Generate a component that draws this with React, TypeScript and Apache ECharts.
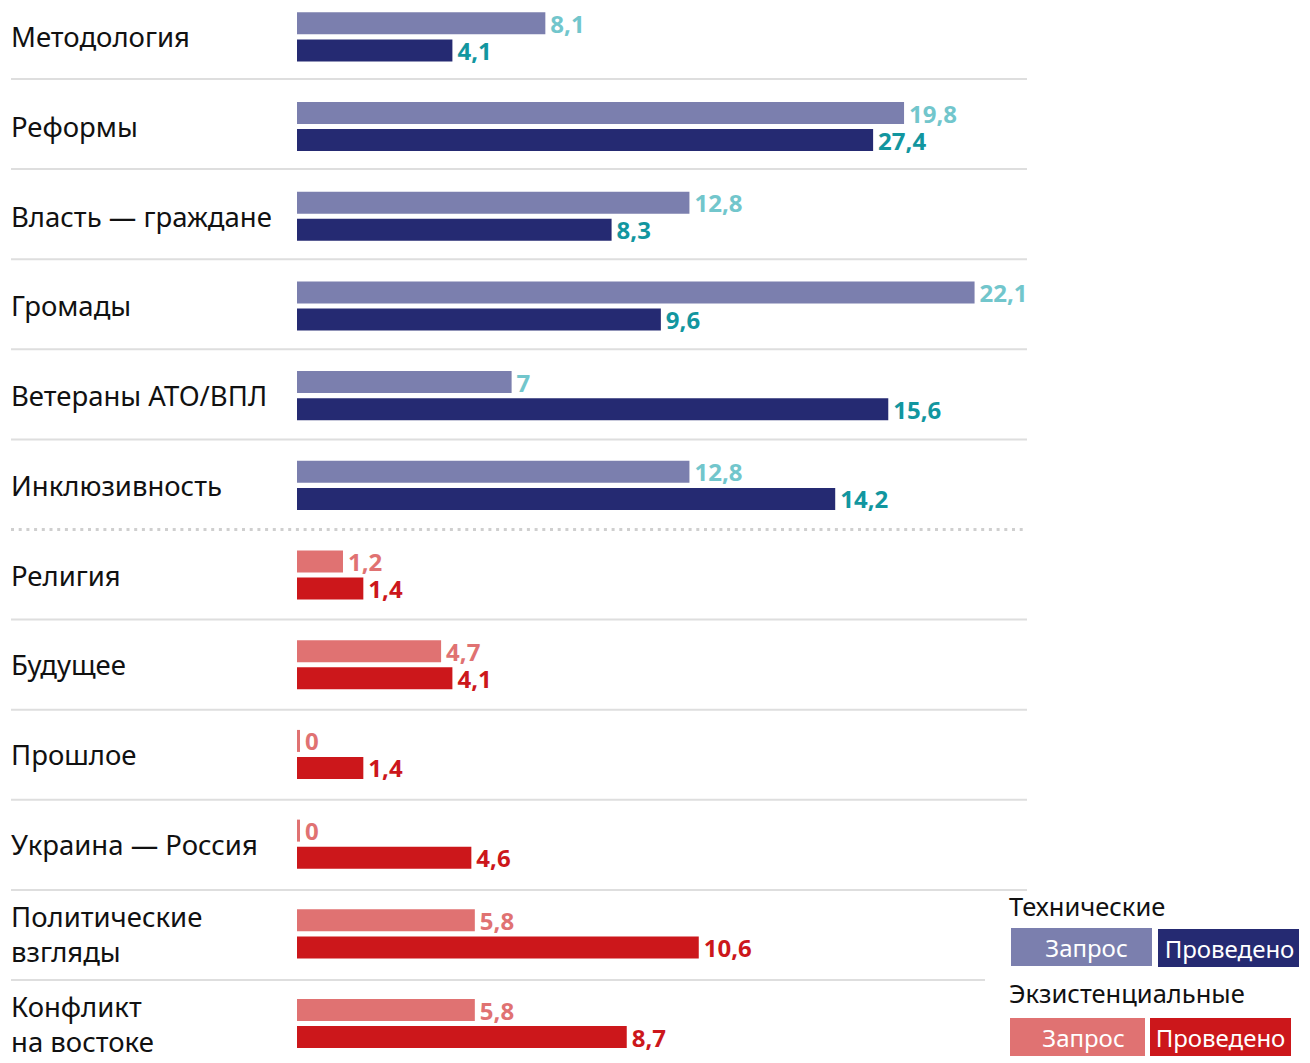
import React, { useEffect, useRef } from "react";
import * as echarts from "echarts";

const categories = [
  "Методология",
  "Реформы",
  "Власть — граждане",
  "Громады",
  "Ветераны АТО/ВПЛ",
  "Инклюзивность",
  "Религия",
  "Будущее",
  "Прошлое",
  "Украина — Россия",
  "Политические\nвзгляды",
  "Конфликт\nна востоке",
];

// Bar lengths (requested / conducted)
const requestedBar = [8.1, 19.8, 12.8, 22.1, 7, 12.8, 1.5, 4.7, 0, 0, 5.8, 5.8];
const conductedBar = [4.1, 15.2, 8.3, 9.6, 15.6, 14.2, 1.75, 4.1, 1.75, 4.6, 10.6, 8.7];

// Printed values
const requestedLabel = ["8,1", "19,8", "12,8", "22,1", "7", "12,8", "1,2", "4,7", "0", "0", "5,8", "5,8"];
const conductedLabel = ["4,1", "27,4", "8,3", "9,6", "15,6", "14,2", "1,4", "4,1", "1,4", "4,6", "10,6", "8,7"];

// group: 0 = Технические, 1 = Экзистенциальные
const groupOf = [0, 0, 0, 0, 0, 0, 1, 1, 1, 1, 1, 1];

const COLORS = {
  techReq: "#7b7fae",
  techDone: "#252a72",
  techReqLabel: "#72c6cc",
  techDoneLabel: "#12969f",
  exReq: "#e07272",
  exDone: "#cc171b",
  exReqLabel: "#e07272",
  exDoneLabel: "#cc171b",
};

const FONT = "'Noto Sans', 'Open Sans', sans-serif";

// The chart canvas starts above the page top so the first row can sit partly above it
const OFFSET = 20;

export default function App() {
  const ref = useRef<HTMLDivElement>(null);

  useEffect(() => {
    if (!ref.current) return;
    const chart = echarts.init(ref.current, null, { renderer: "svg" });

    const gridLeft = 297;
    const gridRight = 1027;
    const gridTop = -8 + OFFSET;
    const pitch = 89.7;
    const gridHeight = pitch * categories.length;

    const reqData = requestedBar.map((v, i) => ({
      value: v,
      itemStyle: { color: groupOf[i] === 0 ? COLORS.techReq : COLORS.exReq },
      label: { color: groupOf[i] === 0 ? COLORS.techReqLabel : COLORS.exReqLabel },
    }));
    const doneData = conductedBar.map((v, i) => ({
      value: v,
      itemStyle: { color: groupOf[i] === 0 ? COLORS.techDone : COLORS.exDone },
      label: { color: groupOf[i] === 0 ? COLORS.techDoneLabel : COLORS.exDoneLabel },
    }));

    const graphics: any[] = [];
    const dividerTop = 79 + OFFSET;
    const dividerPitch = 90.1;
    for (let k = 1; k < categories.length; k++) {
      const y = dividerTop + (k - 1) * dividerPitch;
      const dotted = k === 6;
      const x2 = k === categories.length - 1 ? 985 : gridRight;
      graphics.push({
        type: "line",
        shape: { x1: 11, y1: y, x2, y2: y },
        style: dotted
          ? { stroke: "#cfcfcf", lineWidth: 3, lineDash: [3, 4.7] }
          : { stroke: "#dedede", lineWidth: 2 },
        silent: true,
      });
    }

    const legendText = (text: string, x: number, y: number) => ({
      type: "text",
      x,
      y: y + OFFSET,
      style: { text, fontSize: 25.5, fontFamily: FONT, fill: "#111", textVerticalAlign: "middle" },
    });
    const legendBox = (text: string, x: number, y: number, w: number, h: number, color: string, dx: number) => ({
      type: "group",
      children: [
        { type: "rect", shape: { x, y: y + OFFSET, width: w, height: h }, style: { fill: color } },
        {
          type: "text",
          x: x + w / 2 + dx,
          y: y + OFFSET + h / 2,
          style: {
            text,
            fontSize: 24,
            fontFamily: FONT,
            fill: "#fff",
            align: "center",
            verticalAlign: "middle",
          },
        },
      ],
    });
    graphics.push(legendText("Технические", 1009, 906));
    graphics.push(legendBox("Запрос", 1011, 928, 141, 38, COLORS.techReq, 5));
    graphics.push(legendBox("Проведено", 1158, 929, 141, 38, COLORS.techDone, 1));
    graphics.push(legendText("Экзистенциальные", 1009, 993));
    graphics.push(legendBox("Запрос", 1010, 1018, 135, 38, COLORS.exReq, 6));
    graphics.push(legendBox("Проведено", 1150, 1018, 141, 38, COLORS.exDone, 0));

    const valueLabel = (labels: string[]) => ({
      show: true,
      position: "right",
      distance: 5,
      fontSize: 24,
      lineHeight: 22,
      fontWeight: "bold",
      fontFamily: FONT,
      formatter: (p: any) => labels[p.dataIndex],
    });

    chart.setOption({
      animation: false,
      backgroundColor: "#fff",
      grid: {
        left: gridLeft,
        width: gridRight - gridLeft,
        top: gridTop,
        height: gridHeight,
      },
      xAxis: [
        { type: "value", min: 0, max: 23.81, show: false },
        { type: "value", min: 0, max: 19.26, show: false },
      ],
      yAxis: {
        type: "category",
        data: categories,
        inverse: true,
        axisLine: { show: false },
        axisTick: { show: false },
        splitLine: { show: false },
        axisLabel: {
          align: "left",
          margin: 286,
          fontSize: 27.5,
          lineHeight: 35,
          color: "#111",
          fontFamily: FONT,
        },
      },
      series: [
        {
          type: "bar",
          name: "Запрос",
          xAxisIndex: 0,
          data: reqData,
          barWidth: 22,
          barGap: "23%",
          barMinHeight: 3,
          label: valueLabel(requestedLabel),
        },
        {
          type: "bar",
          name: "Проведено",
          xAxisIndex: 1,
          data: doneData,
          barWidth: 22,
          barGap: "23%",
          label: valueLabel(conductedLabel),
        },
      ],
      graphic: graphics,
    });

    return () => chart.dispose();
  }, []);

  return (
    <div
      style={{ position: "fixed", left: 0, top: 0, width: 1310, height: 1063, overflow: "hidden", background: "#fff" }}
    >
      <div
        ref={ref}
        style={{ position: "absolute", left: 0, top: -OFFSET, width: 1310, height: 1063 + OFFSET + 20 }}
      />
    </div>
  );
}
